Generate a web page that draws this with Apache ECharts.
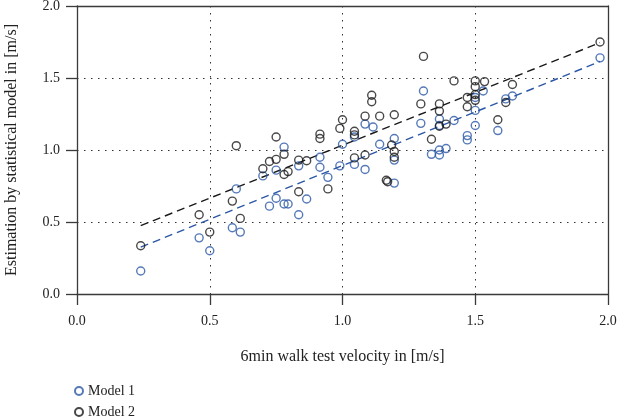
<!DOCTYPE html>
<html>
<head>
<meta charset="utf-8">
<script src="https://cdn.jsdelivr.net/npm/echarts@6/dist/echarts.min.js"></script>
<style>html,body{margin:0;padding:0;background:#fff}#c{width:618px;height:418px}</style>
</head>
<body>
<div id="c"></div>
<script>
// Model 1 (blue) points [velocity, estimation]
const model1 = [
  [0.24,0.16],[0.46,0.39],[0.50,0.30],[0.585,0.46],[0.60,0.73],[0.615,0.43],
  [0.70,0.82],[0.725,0.61],[0.75,0.86],[0.75,0.665],[0.78,1.02],[0.78,0.625],
  [0.795,0.625],[0.835,0.89],[0.835,0.55],[0.865,0.66],[0.915,0.95],[0.915,0.88],
  [0.945,0.81],[0.99,0.89],[1.00,1.04],[1.045,1.09],[1.045,0.90],[1.085,1.18],
  [1.085,0.865],[1.115,1.16],[1.14,1.04],[1.195,1.08],[1.195,0.93],[1.195,0.77],
  [1.295,1.185],[1.305,1.41],[1.335,0.97],[1.365,1.215],[1.365,1.17],[1.365,1.00],
  [1.365,0.965],[1.39,1.01],[1.42,1.205],[1.47,1.10],[1.47,1.07],[1.50,1.365],
  [1.50,1.275],[1.50,1.17],[1.53,1.41],[1.585,1.135],[1.615,1.355],[1.64,1.375],
  [1.97,1.64]
];
// Model 2 (black) points
const model2 = [
  [0.24,0.335],[0.46,0.55],[0.50,0.43],[0.585,0.645],[0.60,1.03],[0.615,0.525],
  [0.70,0.87],[0.725,0.92],[0.75,1.09],[0.75,0.935],[0.78,0.97],[0.78,0.83],
  [0.795,0.85],[0.835,0.93],[0.835,0.71],[0.865,0.925],[0.915,1.11],[0.915,1.08],
  [0.945,0.73],[0.99,1.15],[1.00,1.21],[1.045,1.13],[1.045,1.105],[1.045,0.945],
  [1.085,1.235],[1.085,0.965],[1.11,1.38],[1.11,1.335],[1.14,1.235],[1.165,0.79],
  [1.17,0.78],[1.185,1.035],[1.195,1.245],[1.195,0.99],[1.195,0.95],[1.295,1.32],
  [1.305,1.65],[1.335,1.075],[1.365,1.32],[1.365,1.27],[1.365,1.165],[1.39,1.18],
  [1.42,1.48],[1.47,1.365],[1.47,1.30],[1.50,1.48],[1.50,1.44],[1.50,1.385],
  [1.50,1.345],[1.535,1.475],[1.585,1.21],[1.615,1.33],[1.64,1.455],[1.97,1.75]
];
// Fitted trend lines (end points)
const trend1 = [[0.24,0.325],[1.97,1.615]];
const trend2 = [[0.24,0.475],[1.97,1.745]];
const seriesNames = ['Model 1','Model 2'];
const xTickLabels = ['0.0','0.5','1.0','1.5','2.0'];
const yTickLabels = ['0.0','0.5','1.0','1.5','2.0'];
const xTitle = '6min walk test velocity in [m/s]';
const yTitle = 'Estimation by statistical model in [m/s]';

const BLUE = '#2b57a6', BLACK = '#1a1a1a';
const FONT = 'Liberation Serif';
const chart = echarts.init(document.getElementById('c'), null, {renderer:'canvas'});
const gridLine = {show:true, lineStyle:{color:'#333', type:[1.5,5.5], width:1}};
const axisLineStyle = {color:'#3a3a3a', width:1.3};
chart.setOption({
  animation:false,
  backgroundColor:'#fff',
  grid:{left:77, right:10, top:6, bottom:124, containLabel:false, outerBoundsMode:'none'},
  legend:{
    data:seriesNames, orient:'vertical', left:74, top:384, itemGap:7, padding:0,
    itemWidth:8, itemHeight:8, icon:'circle', height:40,
    textStyle:{fontFamily:FONT, fontSize:14, color:'#222'}
  },
  xAxis:[{
    type:'value', min:0, max:2, interval:0.5,
    name:xTitle, nameLocation:'middle', nameGap:55,
    nameTextStyle:{fontFamily:FONT, fontSize:16, color:'#222'},
    axisLine:{show:true, lineStyle:axisLineStyle},
    axisTick:{show:true, length:11, lineStyle:axisLineStyle},
    axisLabel:{margin:20, fontFamily:FONT, fontSize:14, color:'#222',
      formatter:(v)=>xTickLabels[Math.round(v/0.5)]},
    splitLine:gridLine
  },{
    type:'value', min:0, max:2, interval:0.5, position:'top',
    axisLine:{show:true, onZero:false, lineStyle:axisLineStyle},
    axisTick:{show:false}, axisLabel:{show:false}, splitLine:{show:false}
  }],
  yAxis:[{
    type:'value', min:0, max:2, interval:0.5,
    name:yTitle, nameLocation:'middle', nameGap:57,
    nameTextStyle:{fontFamily:FONT, fontSize:16, color:'#222'},
    axisLine:{show:true, lineStyle:axisLineStyle},
    axisTick:{show:true, length:11, lineStyle:axisLineStyle},
    axisLabel:{margin:17, fontFamily:FONT, fontSize:14, color:'#222',
      formatter:(v)=>yTickLabels[Math.round(v/0.5)]},
    splitLine:gridLine
  },{
    type:'value', min:0, max:2, interval:0.5, position:'right',
    axisLine:{show:true, onZero:false, lineStyle:axisLineStyle},
    axisTick:{show:false}, axisLabel:{show:false}, splitLine:{show:false}
  }],
  series:[
    {name:'trend1', type:'line', data:trend1, symbol:'none', silent:true,
      lineStyle:{color:BLUE, width:1.4, type:[8,5]}, z:1},
    {name:'trend2', type:'line', data:trend2, symbol:'none', silent:true,
      lineStyle:{color:BLACK, width:1.4, type:[8,5]}, z:1},
    {name:seriesNames[0], type:'scatter', data:model1, symbol:'circle', symbolSize:8,
      itemStyle:{color:'rgba(255,255,255,0)', borderColor:BLUE, borderWidth:1.4}, z:3},
    {name:seriesNames[1], type:'scatter', data:model2, symbol:'circle', symbolSize:8,
      itemStyle:{color:'rgba(255,255,255,0)', borderColor:BLACK, borderWidth:1.4}, z:3}
  ]
});
</script>
</body>
</html>
